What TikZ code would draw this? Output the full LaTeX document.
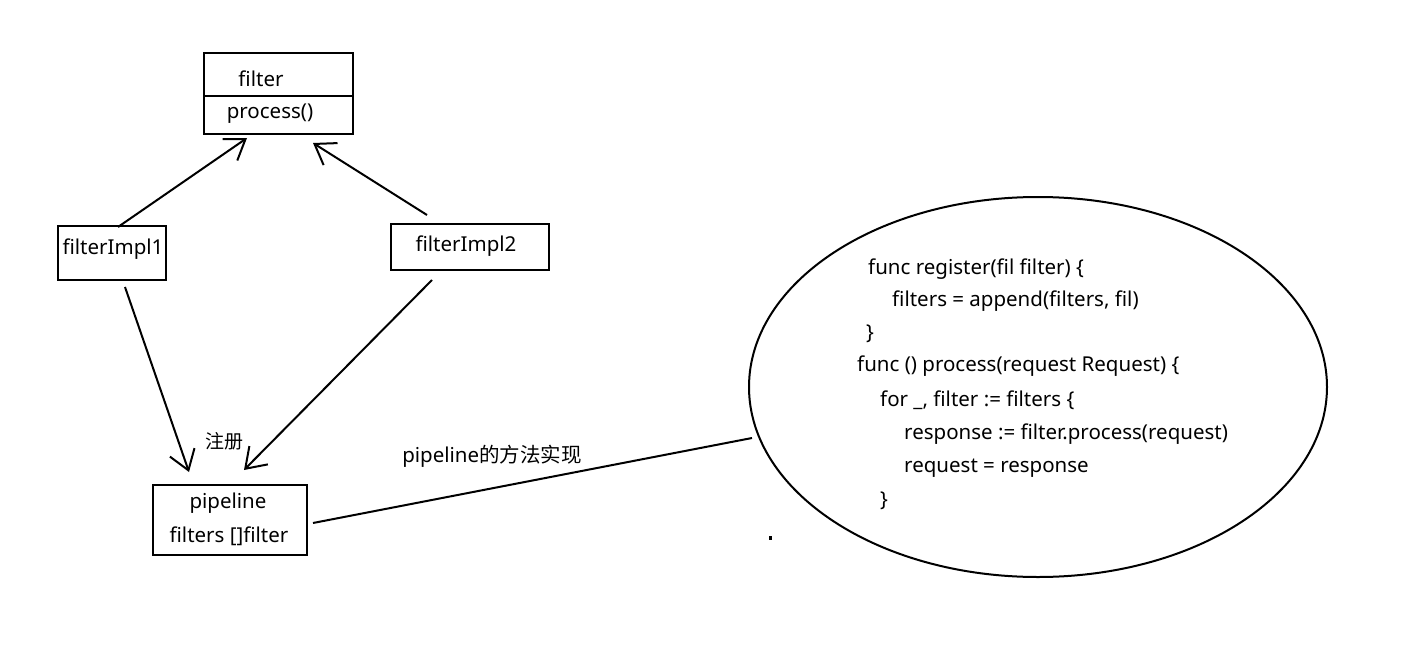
\documentclass[tikz,border=0pt]{standalone}
\usepackage{fontspec}
\setmainfont{Noto Sans}
\newfontfamily\cjk{Noto Sans CJK SC}
\usetikzlibrary{arrows.meta,shapes.geometric}
\begin{document}
\begin{tikzpicture}[x=1pt,y=-1pt,
  every node/.style={font=\fontsize{20.5}{24}\selectfont, inner sep=0pt},
  box/.style={draw, line width=2pt, rectangle},
  conn/.style={line width=2pt},
  arr/.style={conn, -{Straight Barb[length=19pt,width=26pt,line width=2pt]}},
  code/.style={anchor=west}]
\useasboundingbox (0,0) rectangle (1428,656);
% filter box
\node[box, minimum width=149pt, minimum height=81pt] (filterbox) at (278.5,93.5) {};
\draw[line width=2pt] (204,96) -- (353,96);
\node (filtername) at (261,79) {filter};
\node (process) at (270,114) {process()};
% impl boxes
\node[box, minimum width=108pt, minimum height=54pt] (impl1) at (112,253) {};
\node (impl1t) at (113,249) {filterImpl1};
\node[box, minimum width=158pt, minimum height=46pt] (impl2) at (470,247) {};
\node (impl2t) at (466,246) {filterImpl2};
% pipeline box
\node[box, minimum width=154pt, minimum height=70pt] (pipe) at (230,520) {};
\node (pipe1) at (228,503) {pipeline};
\node (pipe2) at (229,536) {filters []filter};
% arrows
\coordinate (a1s) at (118,227); \coordinate (a1e) at (247,138);
\coordinate (a2s) at (427,215); \coordinate (a2e) at (313,143);
\coordinate (a3s) at (125,287); \coordinate (a3e) at (189,472);
\coordinate (a4s) at (432,280); \coordinate (a4e) at (244,470);
\draw[arr] (a1s) -- (a1e);
\draw[arr] (a2s) -- (a2e);
\draw[arr] (a3s) -- (a3e);
\draw[arr] (a4s) -- (a4e);
\node[font=\cjk\fontsize{19}{22}\selectfont] (reg) at (224,441) {注册};
% ellipse
\node[draw, line width=2pt, ellipse, minimum width=578pt, minimum height=380pt] (ell) at (1038,387) {};
\coordinate (ls) at (313,523); \coordinate (le) at (752,438);
\draw[conn] (ls) -- (le);
\node (impl) at (492,456) {pipeline{\cjk 的方法实现}};
% code
\node[code] (c1) at (868,269) {func register(fil filter) \{};
\node[code] (c2) at (892,301) {filters = append(filters, fil)};
\node[code] (c3) at (866,334) {\}};
\node[code] (c4) at (857,366) {func () process(request Request) \{};
\node[code] (c5) at (880,400) {for \_, filter := filters \{};
\node[code] (c6) at (904,434) {response := filter.process(request)};
\node[code] (c7) at (904,468) {request = response};
\node[code] (c8) at (880,501) {\}};
\fill (769,536) rectangle (772,540);
\end{tikzpicture}
\end{document}
